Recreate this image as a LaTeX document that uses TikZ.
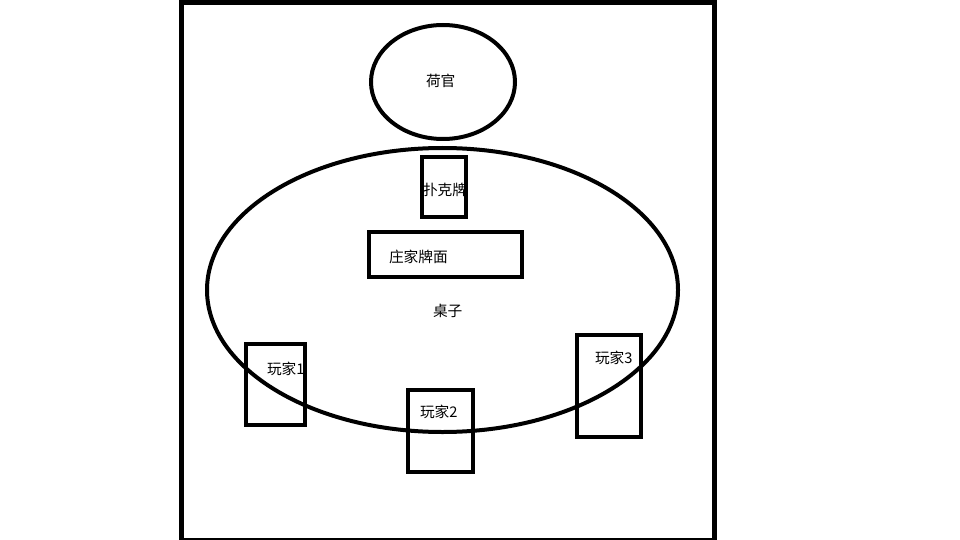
\documentclass[tikz,border=0pt]{standalone}
\usepackage{fontspec}
\setmainfont{Noto Sans CJK SC}
\usetikzlibrary{shapes.geometric}
\tikzset{
  outline/.style={draw=black, line width=4pt, inner sep=0pt, outer sep=0pt},
  boxshape/.style={outline, rectangle},
  ovalshape/.style={outline, ellipse},
  lbl/.style={anchor=base west, inner sep=0pt, outer sep=0pt, font=\fontsize{14.7}{16}\selectfont, text=black},
}
\begin{document}
\begin{tikzpicture}[x=1pt,y=-1pt]
\useasboundingbox (0,0) rectangle (960,540);
% outer frame
\node[boxshape, line width=5pt, minimum width=533pt, minimum height=537.5pt] (frame) at (448,271.25) {};
% dealer
\node[ovalshape, minimum width=144pt, minimum height=114pt] (dealer) at (443,82) {};
% table
\node[ovalshape, minimum width=471pt, minimum height=284pt] (table) at (442.5,290) {};
% cards
\node[boxshape, minimum width=44pt, minimum height=60pt] (cards) at (444,187) {};
% banker face
\node[boxshape, minimum width=153pt, minimum height=45pt] (banker) at (445.5,254.5) {};
% players
\node[boxshape, minimum width=59.5pt, minimum height=81pt] (p1) at (275.25,384.5) {};
\node[boxshape, minimum width=65pt, minimum height=82pt] (p2) at (440.5,431) {};
\node[boxshape, minimum width=64pt, minimum height=102pt] (p3) at (609,386) {};
% labels
\node[lbl] (tdealer) at (426,87) {荷官};
\node[lbl] (tcards) at (423,195) {扑克牌};
\node[lbl] (tbanker) at (389,262) {庄家牌面};
\node[lbl] (ttable) at (433,316.5) {桌子};
\node[lbl] (tp1) at (267,374) {玩家1};
\node[lbl] (tp2) at (420,417.5) {玩家2};
\node[lbl] (tp3) at (595,363) {玩家3};
\end{tikzpicture}
\end{document}
